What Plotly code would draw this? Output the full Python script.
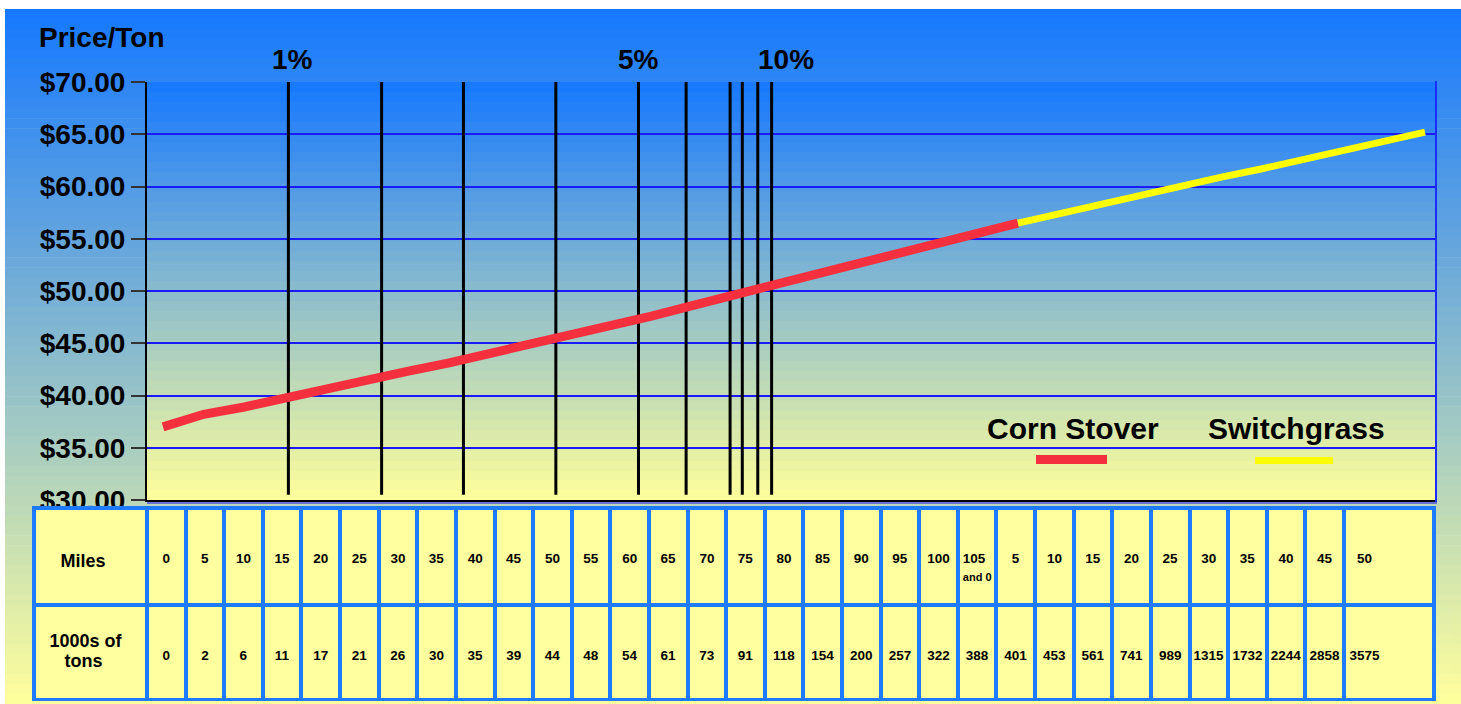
import plotly.graph_objects as go

# ---------------- data ----------------
miles_labels = ["0", "5", "10", "15", "20", "25", "30", "35", "40", "45", "50",
                "55", "60", "65", "70", "75", "80", "85", "90", "95", "100",
                "105<br><span style='font-size:11px'>and 0</span>",
                "5", "10", "15", "20", "25", "30", "35", "40", "45", "50"]
tons_labels = ["0", "2", "6", "11", "17", "21", "26", "30", "35", "39", "44",
               "48", "54", "61", "73", "91", "118", "154", "200", "257", "322",
               "388", "401", "453", "561", "741", "989", "1315", "1732", "2244",
               "2858", "3575"]
row_labels = ["Miles", "1000s of<br>tons"]

corn_x = list(range(22))
corn_price = [37.0, 38.2, 38.9, 39.8, 40.6, 41.4, 42.3, 43.1, 44.0, 44.7, 45.7,
              46.6, 47.6, 48.6, 49.6, 50.6, 51.4, 52.4, 53.4, 54.5, 55.4, 56.5]
switch_x = list(range(21, 32))
switch_price = [56.5, 57.4, 58.2, 59.1, 60.0, 60.9, 61.7, 62.6, 63.5, 64.3, 65.2]

threshold_x = [3.08, 5.37, 7.38, 9.65, 11.68, 12.85, 13.93, 14.23, 14.61, 14.95]
pct_labels = ["1%", "5%", "10%"]
pct_x = [3.19, 11.67, 15.3]

y_ticks = [30, 35, 40, 45, 50, 55, 60, 65, 70]
y_tick_text = ["$30.00", "$35.00", "$40.00", "$45.00", "$50.00", "$55.00",
               "$60.00", "$65.00", "$70.00"]

# ---------------- layout helpers ----------------
W, H = 1461, 704
FONT = "Arial, Liberation Sans, sans-serif"
TOP_C = (22, 120, 255)
BOT_C = (255, 255, 155)


def px_x(p):
    return p / W


def px_y(p):
    return 1 - p / H


def mix(t):
    r = [round(a + (b - a) * t) for a, b in zip(TOP_C, BOT_C)]
    return f"rgb({r[0]},{r[1]},{r[2]})"


shapes = []
# page gradient
y0, y1, n = 9, 704, 70
for i in range(n):
    a = y0 + (y1 - y0) * i / n
    b = y0 + (y1 - y0) * (i + 1) / n
    shapes.append(dict(type="rect", xref="paper", yref="paper", layer="below",
                       x0=px_x(5), x1=1, y0=px_y(b + 0.6), y1=px_y(a),
                       fillcolor=mix((i + 0.5) / n), line=dict(width=0)))
# plot-area gradient
py0, py1, n2 = 82, 500, 42
for i in range(n2):
    a = py0 + (py1 - py0) * i / n2
    b = py0 + (py1 - py0) * (i + 1) / n2
    shapes.append(dict(type="rect", xref="paper", yref="paper", layer="below",
                       x0=px_x(147), x1=px_x(1436), y0=px_y(b + 0.6), y1=px_y(a),
                       fillcolor=mix((i + 0.5) / n2), line=dict(width=0)))
# right border and bottom blue line of plot area
shapes.append(dict(type="line", xref="paper", yref="paper", x0=px_x(1436), x1=px_x(1436),
                   y0=px_y(502), y1=px_y(81), line=dict(color="#1a2cff", width=2)))
shapes.append(dict(type="line", xref="paper", yref="paper", x0=px_x(147), x1=px_x(1437),
                   y0=px_y(503), y1=px_y(503), line=dict(color="#5050e0", width=1.5)))
# legend samples
shapes.append(dict(type="line", xref="paper", yref="paper", x0=px_x(1036), x1=px_x(1107),
                   y0=px_y(459.5), y1=px_y(459.5), line=dict(color="#f42f3e", width=9)))
shapes.append(dict(type="line", xref="paper", yref="paper", x0=px_x(1255), x1=px_x(1333),
                   y0=px_y(460.5), y1=px_y(460.5), line=dict(color="#ffff00", width=7)))

fig = go.Figure()

# threshold vertical lines
vx, vy = [], []
for x in threshold_x:
    vx += [x, x, None]
    vy += [30.5, 70.0, None]
fig.add_trace(go.Scatter(x=vx, y=vy, mode="lines", line=dict(color="black", width=3),
                         hoverinfo="skip", showlegend=False))

fig.add_trace(go.Scatter(x=corn_x, y=corn_price, mode="lines", name="Corn Stover",
                         line=dict(color="#f42f3e", width=9), showlegend=False))
fig.add_trace(go.Scatter(x=switch_x, y=switch_price, mode="lines", name="Switchgrass",
                         line=dict(color="#ffff00", width=7), showlegend=False))

# table
NB = "\u00a0"
n_cols = len(miles_labels)
pad = NB * 13


def sp(txt, size, lead=0, trail=0):
    return f"<span style='font-size:{size}px'><b>{NB * lead}{txt}{NB * trail}</b></span>"


header_vals = [f"{NB}<br>{NB}<br>" + sp(row_labels[0], 18, 0, 3)]
for v in miles_labels:
    header_vals.append(f"{NB}<br>{NB}<br><b>{v}</b>")
header_vals[-1] = header_vals[-1] + pad
lab_lines = row_labels[1].split("<br>")
cell_vals = [[f"{NB}<br>" + sp(lab_lines[0], 18, 0, 2) + "<br>" + sp(lab_lines[1], 18, 3, 0)]]
for t in tons_labels:
    cell_vals.append([f"{NB}<br>{NB}<br><b>{t}</b>"])
cell_vals[-1] = [cell_vals[-1][0] + pad]

fig.add_trace(go.Table(
    domain=dict(x=[px_x(34), px_x(1434)], y=[0.003, px_y(508)]),
    columnwidth=[113] + [38.6] * (n_cols - 1) + [90],
    header=dict(values=header_vals, fill_color="#ffff9f",
                line=dict(color="#1e7bff", width=4), align="center", height=97,
                font=dict(family=FONT, size=[14.6] + [13.5] * n_cols, color="black")),
    cells=dict(values=cell_vals, fill_color="#ffff9f",
               line=dict(color="#1e7bff", width=4), align="center", height=95,
               font=dict(family=FONT, size=[15.5] + [13.5] * n_cols, color="black")),
))

annotations = [
    dict(text="Price/Ton", x=px_x(37), y=px_y(38), xref="paper", yref="paper",
         xanchor="left", yanchor="middle", showarrow=False,
         font=dict(family=FONT, size=28, color="black", weight="bold")),
    dict(text="Corn Stover", x=px_x(1073), y=px_y(428), xref="paper", yref="paper",
         xanchor="center", yanchor="middle", showarrow=False,
         font=dict(family=FONT, size=30, color="black", weight="bold")),
    dict(text="Switchgrass", x=px_x(1296), y=px_y(428), xref="paper", yref="paper",
         xanchor="center", yanchor="middle", showarrow=False,
         font=dict(family=FONT, size=30, color="black", weight="bold")),
]
for lab, x in zip(pct_labels, pct_x):
    annotations.append(dict(text=lab, x=x, y=px_y(60), xref="x", yref="paper",
                            xanchor="center", yanchor="middle", showarrow=False,
                            font=dict(family=FONT, size=28, color="black", weight="bold")))

fig.update_layout(
    width=W, height=H,
    margin=dict(l=0, r=0, t=0, b=0, autoexpand=False),
    paper_bgcolor="white",
    plot_bgcolor="rgba(0,0,0,0)",
    shapes=shapes,
    annotations=annotations,
    showlegend=False,
    xaxis=dict(domain=[px_x(147), px_x(1436)], range=[-0.393, 31.27], automargin=False,
               showgrid=False, zeroline=False, showticklabels=False, ticks="",
               showline=True, linecolor="black", linewidth=2, fixedrange=True),
    yaxis=dict(domain=[px_y(500), px_y(82)], range=[30, 70],
               tickmode="array", tickvals=y_ticks, ticktext=y_tick_text,
               automargin=False,
               tickfont=dict(family=FONT, size=28, color="black", weight="bold"),
               showgrid=True, gridcolor="#1a1aff", gridwidth=1.5, zeroline=False,
               showline=True, linecolor="black", linewidth=2,
               ticks="outside", ticklen=14, tickcolor="#333333", tickwidth=1.5,
               fixedrange=True),
)

post = """
(function(){
var gd=document.getElementById('{plot_id}');
var de=document.documentElement, b=document.body;
de.style.margin='0'; de.style.padding='0'; b.style.margin='0'; b.style.padding='0';
de.style.overflow='hidden'; b.style.overflow='hidden';
if(gd){gd.style.position='fixed'; gd.style.left='0px'; gd.style.top='0px';}
})();
"""

fig.write_html("out.html", post_script=post, config={"displayModeBar": False})
